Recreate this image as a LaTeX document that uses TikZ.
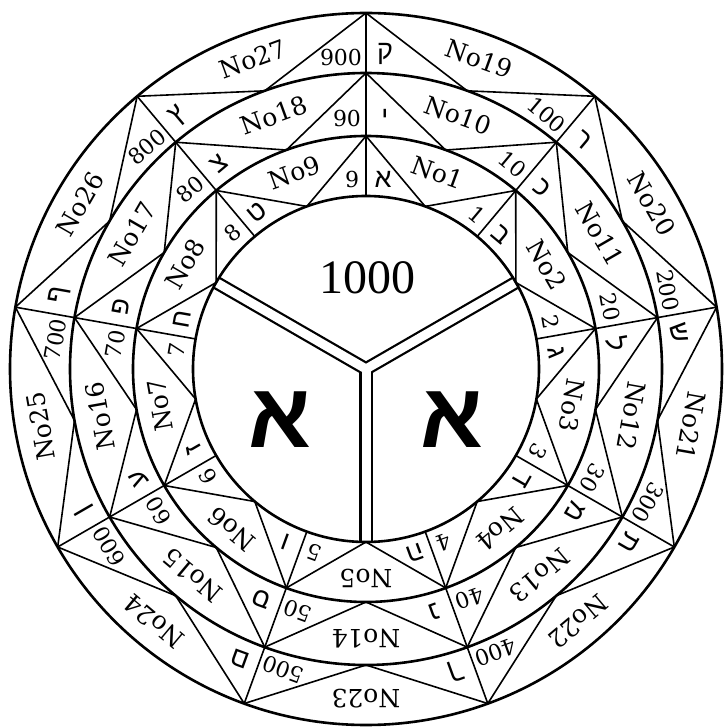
\documentclass[tikz,border=0pt]{standalone}
\usepackage{fontspec}
\setmainfont{DejaVu Serif}
\newfontfamily\hebfont[Script=Hebrew]{Liberation Sans}
\newfontfamily\numfont{Liberation Serif}
\usetikzlibrary{calc}

\begin{document}
\begin{tikzpicture}[x=1pt, y=1pt,
    circ/.style={line width=2.6pt},
    chord/.style={line width=1.6pt, line join=round},
    seclabel/.style={font=\fontsize{25}{25}\selectfont, inner sep=0pt},
    numlabel/.style={font=\fontsize{22}{22}\selectfont, inner sep=0pt},
    heblabel/.style={font=\hebfont\fontsize{27}{27}\selectfont, inner sep=0pt}
  ]
  \useasboundingbox (-366,-358) rectangle (359,369);
  \coordinate (ctr) at (0,0);

  % Corner points of the three rings
  \foreach \r/\ri/\ro in {1/173/233, 2/233/296, 3/296/356} {
    \foreach \k in {0,...,8} {
      \coordinate (out\r-\k) at ({90-40*\k}:\ro);
      \coordinate (in\r-\k) at ({70-40*\k}:\ri);
      \coordinate (foot\r-\k) at ({90-40*\k}:\ri);
    }
  }

  % Zigzags and dividers
  \foreach \r in {1,2,3} {
    \foreach \k [evaluate=\k as \kn using {int(mod(\k+1,9))}] in {0,...,8} {
      \draw[chord] (out\r-\k) -- (in\r-\k) -- (out\r-\kn);
      \draw[chord] (foot\r-\k) -- (out\r-\k);
    }
  }

  % Y in the middle
  \foreach \a in {30,150,270}
    \draw[line width=13.5pt] (ctr) -- (\a:173);
  \foreach \a in {30,150,270}
    \draw[white, line width=9pt] (ctr) -- (\a:173);

  % Circles
  \foreach \rad in {173,233,296,356}
    \draw[circ] (ctr) circle[radius=\rad];

  % Inner ring: No1 - No9
  \foreach \s/\heb in {1/א,2/ב,3/ג,4/ד,5/ה,6/ו,7/ז,8/ח,9/ט} {
    \pgfmathsetmacro{\c}{110-40*\s}
    \node[seclabel, rotate=\c-90] (sec1-\s) at ({\c}:209) {No\s};
    \node[heblabel, rotate=\c-70] (heb1-\s) at ($({\c+20}:190)+({\c-70}:17)$) {\heb};
    \node[numlabel, rotate=\c-110] (num1-\s) at ($({\c-20}:190)+({\c+70}:14)$) {\s};
  }

  % Middle ring: No10 - No18
  \foreach \s/\heb in {1/י,2/כ,3/ל,4/מ,5/נ,6/ס,7/ע,8/פ,9/צ} {
    \pgfmathsetmacro{\c}{110-40*\s}
    \pgfmathtruncatemacro{\n}{\s+9}
    \node[seclabel, rotate=\c-90] (sec2-\s) at ({\c}:270) {No\n};
    \node[heblabel, rotate=\c-70] (heb2-\s) at ($({\c+20}:252)+({\c-70}:19)$) {\heb};
    \node[numlabel, rotate=\c-110] (num2-\s) at ($({\c-20}:251)+({\c+70}:19)$) {\s0};
  }

  % Outer ring: No19 - No27
  \foreach \s/\heb in {1/ק,2/ר,3/ש,4/ת,5/ך,6/ם,7/ן,8/ף,9/ץ} {
    \pgfmathsetmacro{\c}{110-40*\s}
    \pgfmathtruncatemacro{\n}{\s+18}
    \node[seclabel, rotate=\c-90] (sec3-\s) at ({\c}:330) {No\n};
    \node[heblabel, rotate=\c-70] (heb3-\s) at ($({\c+20}:315)+({\c-70}:19)$) {\heb};
    \node[numlabel, rotate=\c-110] (num3-\s) at ($({\c-20}:311)+({\c+70}:25)$) {\s00};
  }

  % Centre
  \node[font=\numfont\fontsize{48}{48}\selectfont] (thousand) at (1,91) {1000};
  \node[font=\hebfont\bfseries\fontsize{92}{92}\selectfont] (alephL) at (-86,-51) {א};
  \node[font=\hebfont\bfseries\fontsize{92}{92}\selectfont] (alephR) at (86,-51) {א};
\end{tikzpicture}
\end{document}
